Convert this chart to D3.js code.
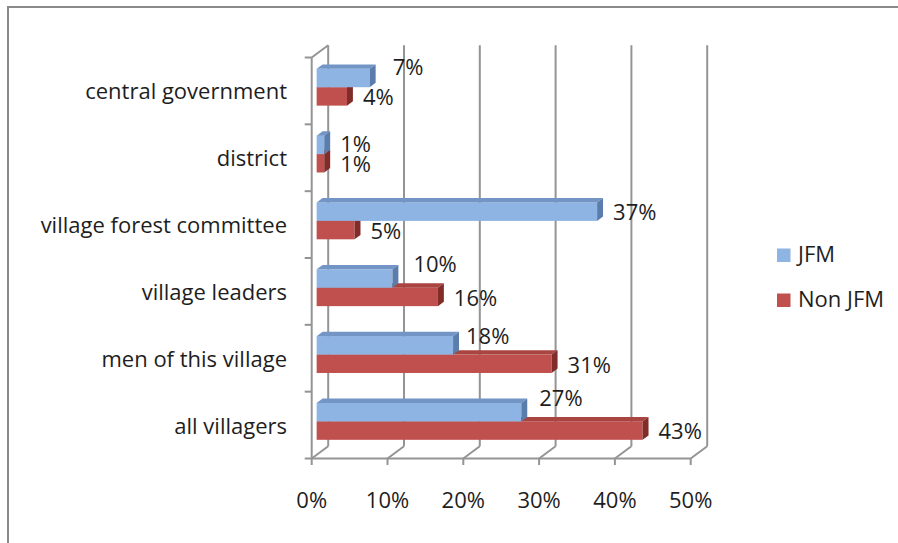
<!DOCTYPE html>
<html>
<head>
<meta charset="utf-8">
<script src="https://cdn.jsdelivr.net/npm/d3@7"></script>
<style>
  html, body { margin: 0; padding: 0; background: #ffffff; }
  svg { display: block; font-family: "Open Sans", "Noto Sans", sans-serif; }
</style>
</head>
<body>
<svg id="chart" width="898" height="543"></svg>
<script>
// Who takes part in forest decisions: JFM vs Non JFM villages
const categories = [
  "central government",
  "district",
  "village forest committee",
  "village leaders",
  "men of this village",
  "all villagers"
];
const seriesNames = ["JFM", "Non JFM"];
const jfmValues    = [0.07, 0.01, 0.37, 0.10, 0.18, 0.27];
const nonJfmValues = [0.04, 0.01, 0.05, 0.16, 0.31, 0.43];
const tickValues = [0, 0.1, 0.2, 0.3, 0.4, 0.5];

// Layout of the pseudo-3D box
const svg = d3.select("#chart");
const front = { left: 311.7, right: 690.7, top: 57.5, bottom: 458.5 };
const depth = { dx: 16.5, dy: -12.3 };        // full depth of the box
const barDepth = { from: 0.3, to: 0.66 };      // bars sit inside the box
const gridColor = "#949494";
const textColor = "#1e1e1e";
const fontSize = 22;

const x = d3.scaleLinear().domain([0, 0.5]).range([front.left, front.right]);
const yCat = d3.scaleBand().domain(categories).range([front.top, front.bottom]).padding(0);
const ySeries = d3.scaleBand().domain(seriesNames).range([0, yCat.bandwidth()])
  .paddingInner(0).paddingOuter(0.815);

const colors = {
  "JFM":     { front: "#8db4e3", top: "#7295c6", side: "#5b7dac" },
  "Non JFM": { front: "#c0504d", top: "#a94441", side: "#822c2a" }
};

// Value-label nudges for crowded clusters (dx, dy), per category
const jfmLabelNudge = [[7, -11], [0, -1], [0, 0], [5, -14.5], [-3, -9.5], [2, -14.5]];

// Outer frame
svg.append("rect")
  .attr("x", 8).attr("y", 7).attr("width", 1000).attr("height", 1000)
  .attr("fill", "none").attr("stroke", "#8a8a8a").attr("stroke-width", 2);

const grid = svg.append("g").attr("stroke", gridColor).attr("stroke-width", 2).attr("fill", "none");

// Back wall gridlines and floor diagonals
tickValues.forEach(t => {
  const fx = x(t);
  grid.append("line")
    .attr("x1", fx + depth.dx).attr("x2", fx + depth.dx)
    .attr("y1", front.top + depth.dy).attr("y2", front.bottom + depth.dy);
  grid.append("line")
    .attr("x1", fx).attr("y1", front.bottom)
    .attr("x2", fx + depth.dx).attr("y2", front.bottom + depth.dy);
  grid.append("line")
    .attr("x1", fx).attr("x2", fx)
    .attr("y1", front.bottom).attr("y2", front.bottom + 6.5);
});

// Front axes
grid.append("line")
  .attr("x1", front.left).attr("x2", front.right)
  .attr("y1", front.bottom).attr("y2", front.bottom);
grid.append("line")
  .attr("x1", front.left).attr("x2", front.left)
  .attr("y1", front.top).attr("y2", front.bottom);
grid.append("line")
  .attr("x1", front.left).attr("y1", front.top)
  .attr("x2", front.left + depth.dx).attr("y2", front.top + depth.dy);

// Category ticks on the left axis
const boundaries = categories.map(c => yCat(c)).concat([front.bottom]);
boundaries.forEach(b => {
  grid.append("line")
    .attr("x1", front.left - 7).attr("x2", front.left)
    .attr("y1", b).attr("y2", b);
});

// Bars as front / top / side faces
const ox = depth.dx * barDepth.from, oy = depth.dy * barDepth.from;
const sx = depth.dx * (barDepth.to - barDepth.from), sy = depth.dy * (barDepth.to - barDepth.from);

const rows = categories.map((c, i) => ({
  category: c,
  bars: [
    { series: "Non JFM", value: nonJfmValues[i] },
    { series: "JFM", value: jfmValues[i] }
  ]
}));

const barsG = svg.append("g");
rows.forEach((row, i) => {
  row.bars.forEach(b => {
    const x0 = x(0) + ox, x1 = x(b.value) + ox;
    const yt = yCat(row.category) + ySeries(b.series) + oy;
    const yb = yt + ySeries.bandwidth();
    const col = colors[b.series];
    const g = barsG.append("g");
    g.append("rect")
      .attr("x", x0).attr("y", yt).attr("width", x1 - x0).attr("height", yb - yt)
      .attr("fill", col.front);
    g.append("polygon")
      .attr("points", [[x0, yt], [x1, yt], [x1 + sx, yt + sy], [x0 + sx, yt + sy]].join(" "))
      .attr("fill", col.top);
    g.append("polygon")
      .attr("points", [[x1, yt], [x1, yb], [x1 + sx, yb + sy], [x1 + sx, yt + sy]].join(" "))
      .attr("fill", col.side);
  });
});

// Value labels
const fmt = d3.format(".0%");
const labelsG = svg.append("g")
  .attr("font-size", fontSize).attr("fill", textColor);
rows.forEach((row, i) => {
  row.bars.forEach(b => {
    const yt = yCat(row.category) + ySeries(b.series) + oy;
    const yc = yt + ySeries.bandwidth() / 2;
    const nudge = b.series === "JFM" ? jfmLabelNudge[i] : [0, 0.5];
    labelsG.append("text")
      .attr("x", x(b.value) + ox + sx + 10 + nudge[0])
      .attr("y", yc + 8.3 + nudge[1])
      .text(fmt(b.value));
  });
});

// Category labels
svg.append("g")
  .attr("font-size", fontSize).attr("fill", textColor).attr("text-anchor", "end")
  .selectAll("text").data(categories).join("text")
  .attr("x", 287)
  .attr("y", d => yCat(d) + yCat.bandwidth() / 2 + 8.5)
  .text(d => d);

// Value axis labels
svg.append("g")
  .attr("font-size", fontSize).attr("fill", textColor).attr("text-anchor", "middle")
  .selectAll("text").data(tickValues).join("text")
  .attr("x", d => x(d))
  .attr("y", 508)
  .text(d => fmt(d));

// Legend
const legend = svg.append("g").attr("font-size", fontSize).attr("fill", textColor);
const legendY = [248.5, 293.5];
seriesNames.forEach((s, i) => {
  legend.append("rect")
    .attr("x", 777).attr("y", legendY[i]).attr("width", 13.5).attr("height", 13.5)
    .attr("fill", colors[s].front);
  legend.append("text")
    .attr("x", 798).attr("y", legendY[i] + 13.5)
    .text(s);
});
</script>
</body>
</html>
